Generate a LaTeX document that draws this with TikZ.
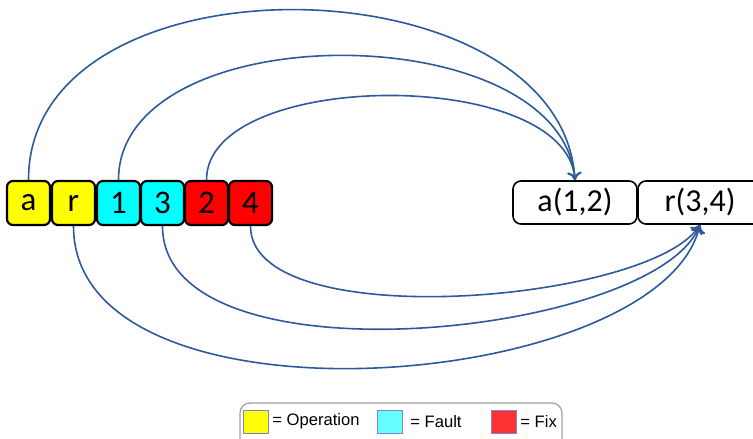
\documentclass[tikz,border=0pt]{standalone}
\usepackage{fontspec}
\setmainfont{Carlito}
\newfontfamily\legendfont{Liberation Sans}
\usetikzlibrary{arrows.meta}
\definecolor{linkblue}{RGB}{44,90,155}
\definecolor{legendgray}{RGB}{160,160,160}
\definecolor{swatchedge}{RGB}{130,130,200}
\definecolor{opyellow}{RGB}{255,255,0}
\definecolor{faultcyan}{RGB}{0,255,255}
\definecolor{fixred}{RGB}{255,0,0}

\begin{document}
\begin{tikzpicture}[x=0.5pt,y=-0.5pt,
  cell/.style={draw,line width=1.1pt,rounded corners=3pt,minimum width=21.5pt,
    minimum height=22pt,inner sep=0pt,font=\fontsize{16.5}{16.5}\selectfont},
  slot/.style={draw,line width=0.8pt,rounded corners=4pt,minimum width=62pt,
    minimum height=21.5pt,inner sep=0pt,font=\fontsize{16}{16}\selectfont},
  link/.style={linkblue,line width=0.8pt,-{To[length=4pt,width=7pt]}},
  swatch/.style={draw=swatchedge,line width=0.4pt,minimum width=12.5pt,
    minimum height=11.5pt,inner sep=0pt},
  key/.style={anchor=west,inner sep=0pt,font=\legendfont\fontsize{8.3}{8.3}\selectfont}]
\useasboundingbox (0,0) rectangle (753,438);
\fill[white] (0,0) rectangle (753,438);
% sequence
\node[cell,fill=opyellow] (a) at (28.5,203) {a};
\node[cell,fill=opyellow] (r) at (73.5,203) {r};
\node[cell,fill=faultcyan] (f1) at (118.5,203) {1};
\node[cell,fill=faultcyan] (f3) at (162.5,203) {3};
\node[cell,fill=fixred] (x2) at (206.5,203) {2};
\node[cell,fill=fixred] (x4) at (250.5,203) {4};
% result
\node[slot] (a12) at (575,202.5) {a(1,2)};
\node[slot] (r34) at (700,202.5) {r(3,4)};
% links
\draw[link] (a.north) .. controls +(0,-232) and +(-14,-222) .. (a12.north);
\draw[link] (f1.north) .. controls +(0,-166) and +(-14,-166) .. (a12.north);
\draw[link] (x2.north) .. controls +(0,-111) and +(-9,-114) .. (a12.north);
\draw[link] (r.south) .. controls +(0,212) and +(-40,168) .. (r34.south);
\draw[link] (f3.south) .. controls +(0,162) and +(-45,112) .. (r34.south);
\draw[link] (x4.south) .. controls +(0,110) and +(-50,78) .. (r34.south);
% legend
\draw[legendgray,line width=0.6pt,rounded corners=5pt] (240,403) rectangle (562,455);
\node[swatch,fill=opyellow] (kop) at (255.5,421.5) {};
\node[key] (top) at (272,421.5) {= Operation};
\node[swatch,fill={rgb,255:red,102;green,255;blue,255}] (kfa) at (390,421.5) {};
\node[key] (tfa) at (410,421.5) {= Fault};
\node[swatch,fill={rgb,255:red,255;green,51;blue,51}] (kfx) at (503.5,421.5) {};
\node[key] (tfx) at (520,421.5) {= Fix};
\end{tikzpicture}
\end{document}
